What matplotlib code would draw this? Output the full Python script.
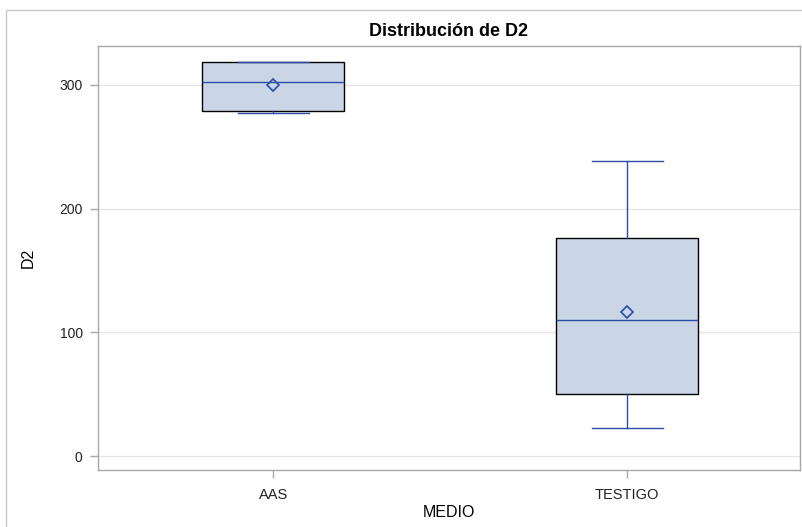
import matplotlib.pyplot as plt
from matplotlib.patches import Rectangle

# summary stats
groups = ["AAS", "TESTIGO"]
q1 = [279, 50]
median = [302.5, 110]
q3 = [318.5, 176]
whislo = [277.5, 22.5]
whishi = [318.5, 238.5]
means = [300, 116.5]
yticks = [0, 100, 200, 300]

blue = "#2B4DA6"
fill = "#CAD5E6"

plt.rcParams["font.family"] = ["Liberation Sans", "DejaVu Sans"]

fig = plt.figure(figsize=(8.02, 5.27), dpi=100)
ax = fig.add_axes([0.1222, 0.1082, 0.8753, 0.8045])

# outer frame of the SAS graph
fig.patches.append(Rectangle((6 / 802, -0.1), 1.0, (527 - 10) / 527 + 0.1,
                             transform=fig.transFigure, fill=False,
                             edgecolor="#C8C8C8", linewidth=1.0))

stats = []
for i, g in enumerate(groups):
    stats.append({"label": g, "q1": q1[i], "med": median[i], "q3": q3[i],
                  "whislo": whislo[i], "whishi": whishi[i], "mean": means[i],
                  "fliers": []})

ax.bxp(stats, positions=[1, 2], widths=0.4, patch_artist=True, showmeans=True,
       boxprops=dict(facecolor=fill, edgecolor="black", linewidth=1.0),
       medianprops=dict(color=blue, linewidth=1.0),
       whiskerprops=dict(color=blue, linewidth=1.0),
       capprops=dict(color=blue, linewidth=1.0),
       capwidths=0.2,
       meanprops=dict(marker="D", markerfacecolor="none", markeredgecolor=blue,
                      markersize=6, markeredgewidth=1.2),
       zorder=3)

ax.set_xlim(0.505, 2.488)
ax.set_ylim(-11.3, 331.5)
ax.set_yticks(yticks)
ax.yaxis.grid(True, color="#E4E4E4", linewidth=0.9, zorder=0)
ax.set_axisbelow(True)

for s in ax.spines.values():
    s.set_color("#A8A8A8")
    s.set_linewidth(1.0)
ax.tick_params(axis="both", colors="#A8A8A8", labelcolor="#222222",
               length=6, width=1.0)
ax.tick_params(axis="y", labelsize=10, pad=5)
ax.tick_params(axis="x", labelsize=10.5, pad=7)

ax.set_xlabel("MEDIO", fontsize=11.5, labelpad=2)
ax.set_ylabel("D2", fontsize=11.5, labelpad=17)
ax.set_title("Distribución de D2", fontsize=13, fontweight="bold", pad=7)

fig.savefig("out.png", dpi=100)
